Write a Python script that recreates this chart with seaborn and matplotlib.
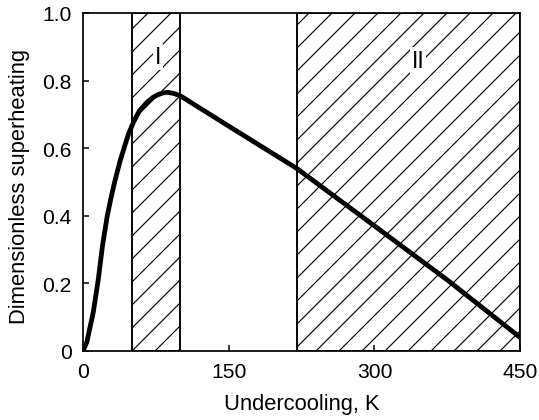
import numpy as np
import pandas as pd
import seaborn as sns
import matplotlib.pyplot as plt

# curve
undercooling = [0, 4, 10.6, 15.8, 20, 25, 29, 33, 38, 43, 47, 52, 58, 66, 72, 77, 82,
                87, 93, 100, 150, 220, 300, 375, 450]
superheating = [0, 0.027, 0.115, 0.213, 0.31, 0.4, 0.455, 0.505, 0.56, 0.607, 0.643,
                0.677, 0.71, 0.736, 0.75, 0.758, 0.763, 0.765, 0.762, 0.755, 0.665,
                0.54, 0.37, 0.21, 0.04]

# hatched regions
regions = [(50, 100), (220, 450)]
region_labels = ["I", "II"]
label_pos = [(77, 0.87), (345, 0.86)]

xticks = [0, 150, 300, 450]
yticks = [0, 0.2, 0.4, 0.6, 0.8, 1.0]
ytick_labels = ["0", "0.2", "0.4", "0.6", "0.8", "1.0"]

sns.set_style("ticks")
plt.rcParams['font.family'] = ['Liberation Sans', 'DejaVu Sans']
plt.rcParams['hatch.linewidth'] = 0.6
plt.rcParams['xtick.direction'] = 'in'
plt.rcParams['ytick.direction'] = 'in'
for k in ['text.color', 'axes.labelcolor', 'xtick.color', 'ytick.color',
          'axes.edgecolor', 'xtick.labelcolor', 'ytick.labelcolor']:
    plt.rcParams[k] = 'black'

dpi = 138
fig = plt.figure(figsize=(539 / dpi, 421 / dpi), dpi=dpi)
ax = fig.add_axes([0.154, 0.164, 0.811, 0.803])

for (a, b) in regions:
    ax.axvspan(a, b, facecolor='none', edgecolor='black', hatch='//', linewidth=1.0)

df = pd.DataFrame({'x': undercooling, 'y': superheating})
sns.lineplot(data=df, x='x', y='y', color='black', linewidth=2.5, ax=ax)

for lab, (px, py) in zip(region_labels, label_pos):
    ax.text(px, py, lab, fontsize=12, ha='center', va='center',
            bbox=dict(facecolor='white', edgecolor='none', pad=1))

ax.set_xlim(0, 450)
ax.set_ylim(0, 1.0)
ax.set_xticks(xticks)
ax.set_yticks(yticks)
ax.set_yticklabels(ytick_labels)
ax.tick_params(labelsize=11, length=3, width=0.8, pad=6)
for s in ax.spines.values():
    s.set_linewidth(0.9)
    s.set_visible(True)
ax.set_xlabel("Undercooling, K", fontsize=11.5, labelpad=6)
ax.set_ylabel("Dimensionless superheating", fontsize=11.5)
ax.yaxis.set_label_coords(-0.121, 0.488)

fig.savefig("out.png", dpi=dpi)
